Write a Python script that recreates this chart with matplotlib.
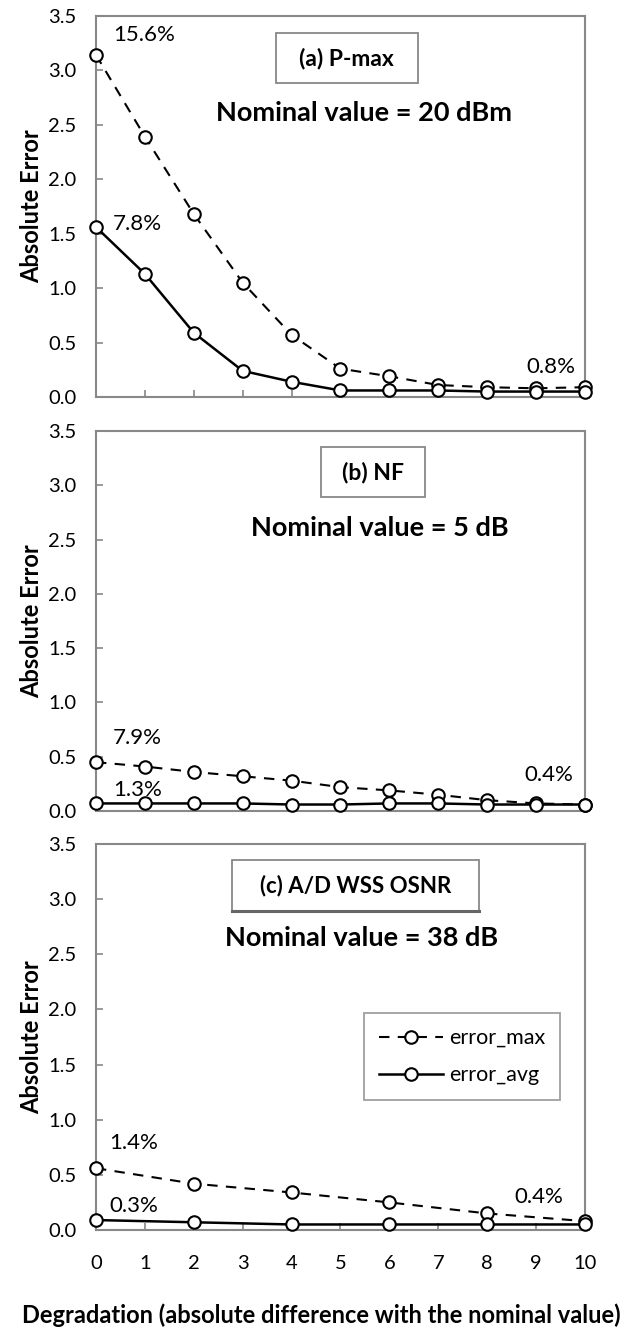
import numpy as np
import matplotlib
matplotlib.use("Agg")
import matplotlib.pyplot as plt
from matplotlib.patches import Rectangle

plt.rcParams['font.family'] = ['Lato', 'DejaVu Sans']

# Data
x_full = [0, 1, 2, 3, 4, 5, 6, 7, 8, 9, 10]
x_osnr = [0, 2, 4, 6, 8, 10]

pmax_err_max = [3.14, 2.39, 1.68, 1.05, 0.57, 0.26, 0.19, 0.11, 0.09, 0.08, 0.09]
pmax_err_avg = [1.56, 1.13, 0.59, 0.24, 0.14, 0.06, 0.06, 0.06, 0.05, 0.05, 0.05]

nf_err_max = [0.45, 0.41, 0.36, 0.32, 0.28, 0.22, 0.19, 0.15, 0.10, 0.07, 0.06]
nf_err_avg = [0.07, 0.07, 0.07, 0.07, 0.06, 0.06, 0.07, 0.07, 0.06, 0.06, 0.06]

osnr_err_max = [0.56, 0.42, 0.34, 0.25, 0.15, 0.08]
osnr_err_avg = [0.09, 0.07, 0.05, 0.05, 0.05, 0.05]

titles = ['(a) P-max', '(b) NF', '(c) A/D WSS OSNR']
nominals = ['Nominal value = 20 dBm', 'Nominal value = 5 dB', 'Nominal value = 38 dB']
pct_labels = [
    [('15.6%', 0.35, 3.32), ('7.8%', 0.35, 1.59), ('0.8%', 8.8, 0.28)],
    [('7.9%', 0.35, 0.67), ('1.3%', 0.35, 0.19), ('0.4%', 8.77, 0.33)],
    [('1.4%', 0.27, 0.79), ('0.3%', 0.27, 0.22), ('0.4%', 8.55, 0.30)],
]

panels = [
    (x_full, pmax_err_max, pmax_err_avg),
    (x_full, nf_err_max, nf_err_avg),
    (x_osnr, osnr_err_max, osnr_err_avg),
]

# layout (figure fractions)
axes_pos = [
    [0.1495, 0.7015, 0.7617, 0.2867],
    [0.1495, 0.3902, 0.7617, 0.2857],
    [0.1495, 0.0752, 0.7617, 0.2902],
]
title_boxes = [(0.368, 0.823, 0.290, 0.132), (0.460, 0.826, 0.213, 0.132), (0.278, 0.826, 0.505, 0.133)]
title_sizes = [16.5, 16.5, 16]
nominal_pos = [(0.548, 0.745), (0.581, 0.745), (0.544, 0.756)]

grey = '#888888'

fig = plt.figure(figsize=(6.42, 13.30), dpi=100)

for i, (xs, emax, eavg) in enumerate(panels):
    ax = fig.add_axes(axes_pos[i])
    l1, = ax.plot(xs, emax, color='black', lw=1.5, linestyle=(0, (5, 4)),
                  marker='o', markersize=9, markerfacecolor='white',
                  markeredgecolor='black', markeredgewidth=1.5, label='error_max',
                  clip_on=False, zorder=3)
    l2, = ax.plot(xs, eavg, color='black', lw=1.8, linestyle='-',
                  marker='o', markersize=9, markerfacecolor='white',
                  markeredgecolor='black', markeredgewidth=1.5, label='error_avg',
                  clip_on=False, zorder=4)

    ax.set_xlim(0, 10)
    ax.set_ylim(0, 3.5)
    ax.set_xticks(range(0, 11))
    ax.set_yticks(np.arange(0, 3.51, 0.5))
    ax.set_yticklabels(['%.1f' % v for v in np.arange(0, 3.51, 0.5)])
    for s in ax.spines.values():
        s.set_color(grey)
        s.set_linewidth(1.5)
    ax.tick_params(axis='both', direction='in', color=grey, width=1.2, length=5,
                   labelsize=14.5, labelcolor='black')
    ax.tick_params(axis='y', pad=14)
    ax.tick_params(axis='x', pad=18)
    if i < 2:
        ax.set_xticklabels([])

    ax.set_ylabel('Absolute Error', fontsize=17, fontweight='bold', labelpad=4)

    bx, by, bw, bh = title_boxes[i]
    ax.add_patch(Rectangle((bx, by), bw, bh, transform=ax.transAxes,
                           facecolor='white', edgecolor=grey, lw=1.3, zorder=2))
    if i == 2:
        # slightly heavier lower edge on the last label box
        ax.plot([bx, bx + bw], [by, by], transform=ax.transAxes, color='#666666', lw=2.2, zorder=2)
    ax.text(bx + bw / 2, by + bh / 2, titles[i], transform=ax.transAxes,
            ha='center', va='center', fontsize=title_sizes[i], fontweight='bold', zorder=5)
    ax.text(nominal_pos[i][0], nominal_pos[i][1], nominals[i], transform=ax.transAxes,
            ha='center', va='center', fontsize=19.5, fontweight='bold')

    for txt, tx, ty in pct_labels[i]:
        ax.text(tx, ty, txt, ha='left', va='center', fontsize=16)

    if i == 2:
        leg = ax.legend(handles=[l1, l2], loc='upper right', bbox_to_anchor=(0.949, 0.562),
                        fontsize=15.5, frameon=True, fancybox=False, handlelength=3.0,
                        borderpad=0.7, labelspacing=0.8, handletextpad=0.25,
                        borderaxespad=0)
        leg.get_frame().set_edgecolor(grey)
        leg.get_frame().set_linewidth(1.3)

fig.text(0.5, 0.0113, 'Degradation (absolute difference with the nominal value)',
         ha='center', va='center', fontsize=17, fontweight='bold')

fig.savefig('out.png', dpi=100)
